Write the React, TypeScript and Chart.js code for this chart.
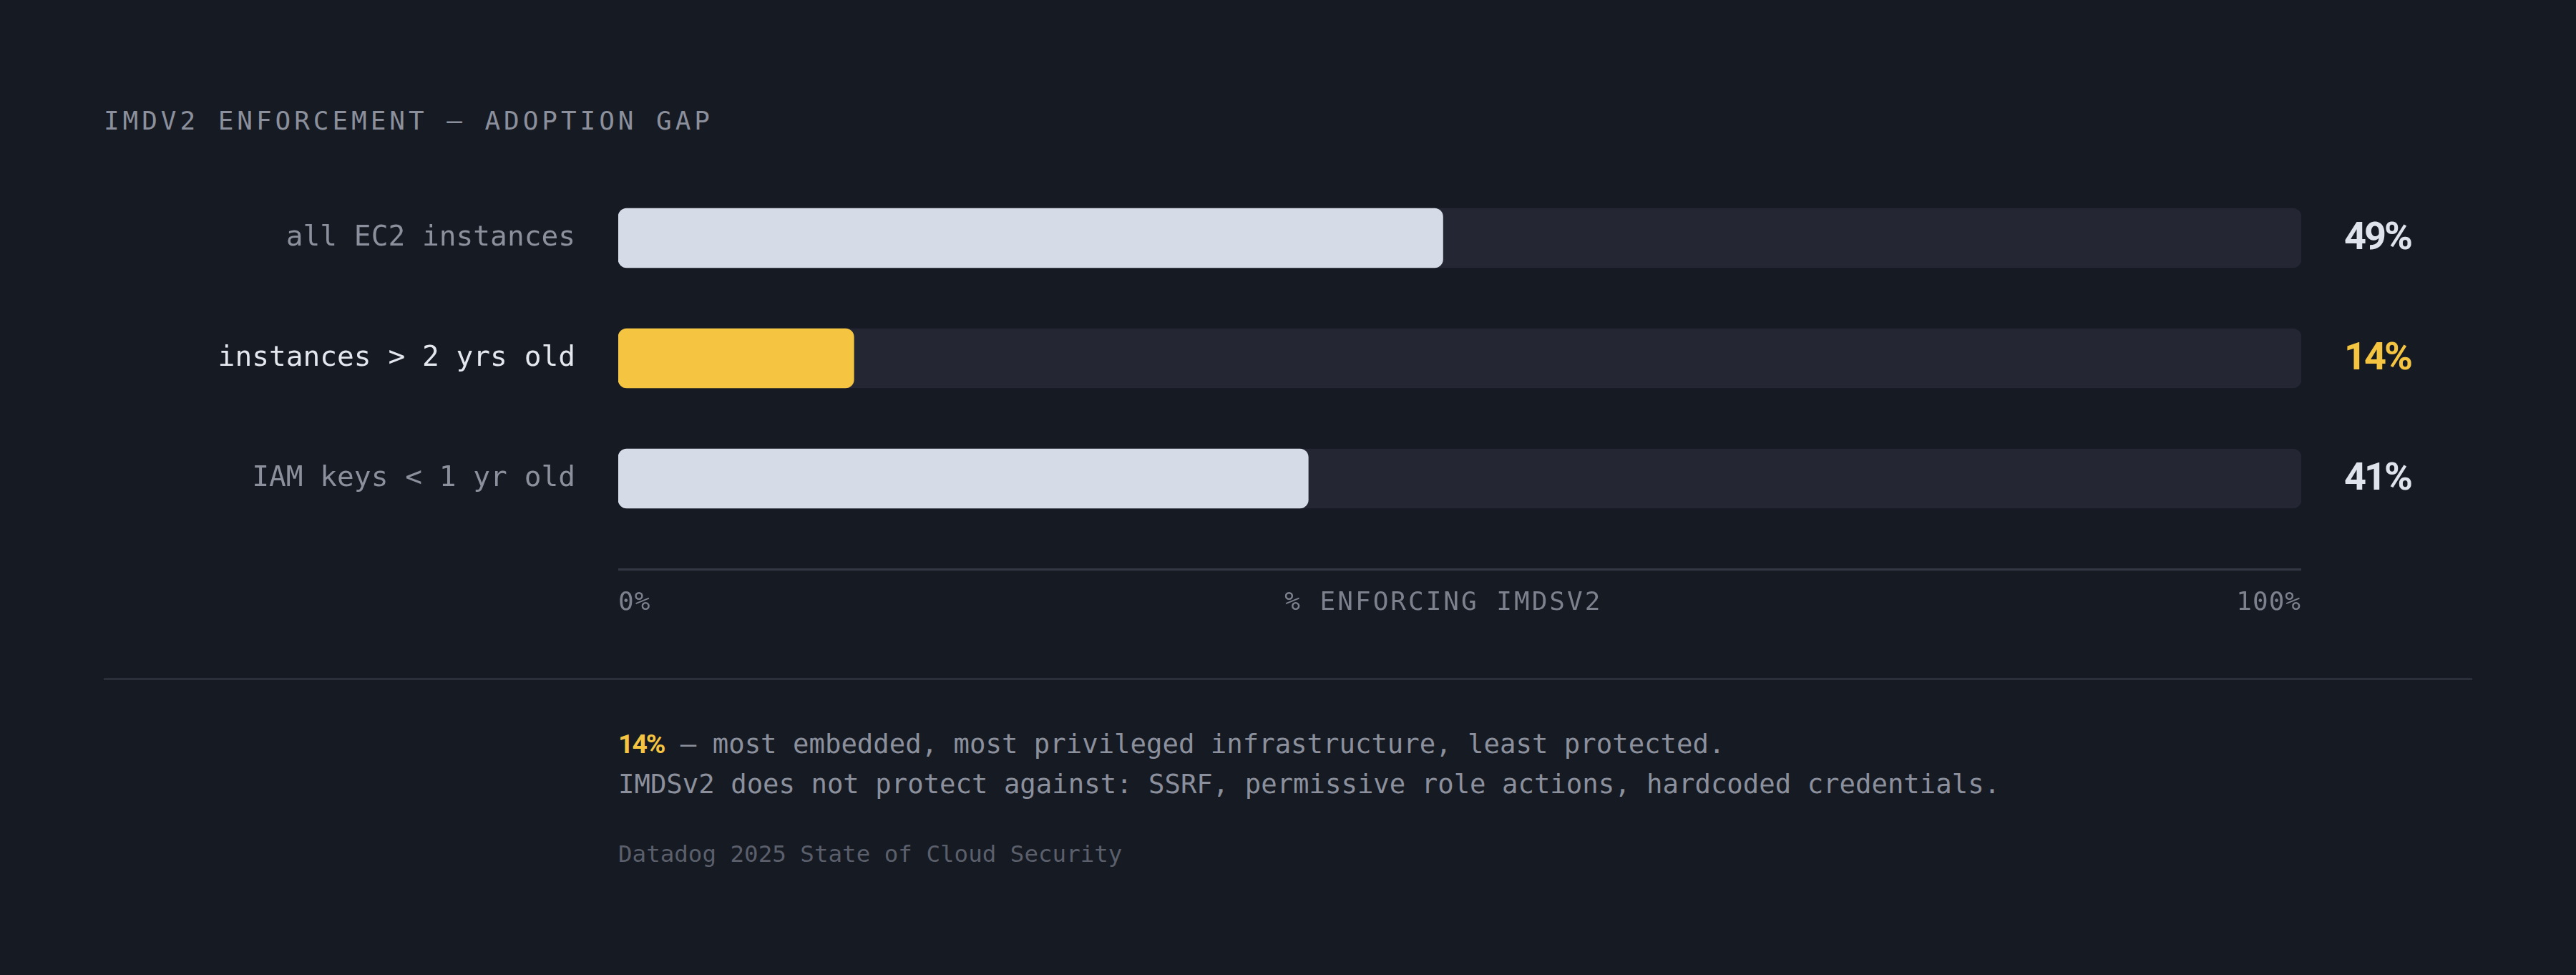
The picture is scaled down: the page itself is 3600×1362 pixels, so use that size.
import { useEffect, useRef } from "react"
import { Chart, registerables } from "chart.js"

Chart.register(...registerables)

// chart data
const categories = ["all EC2 instances", "instances > 2 yrs old", "IAM keys < 1 yr old"]
const enforcing = [49, 14, 41]
const highlightIndex = 1
const trackMax = [100, 100, 100]
const axisLabels = ["0%", "% ENFORCING IMDSV2", "100%"]

const BG = "#161a23"
const TRACK = "#242733"
const BAR = "#d5dbe7"
const YELLOW = "#f5c542"
const MUTED = "#8b909c"
const MONO = "'DejaVu Sans Mono', 'Liberation Mono', monospace"
const SANS = "Roboto, 'Noto Sans', sans-serif"

// value labels to the right of each track
const valueLabels = {
  id: "valueLabels",
  afterDatasetsDraw(chart: Chart) {
    const { ctx, chartArea } = chart
    const meta = chart.getDatasetMeta(0)
    ctx.save()
    ctx.font = `700 54px ${SANS}`
    ;(ctx as any).letterSpacing = "-3px"
    ctx.textAlign = "left"
    ctx.textBaseline = "middle"
    meta.data.forEach((el: any, i: number) => {
      ctx.fillStyle = i === highlightIndex ? YELLOW : "#dfe3ec"
      ctx.fillText(`${enforcing[i]}%`, chartArea.right + 60, el.y + 2)
    })
    ctx.restore()
  },
}

// bottom axis line + labels laid out like space-between
const bottomAxis = {
  id: "bottomAxis",
  afterDraw(chart: Chart) {
    const { ctx, chartArea } = chart
    const x = chart.scales.x
    const x0 = x.getPixelForValue(0)
    const x1 = x.getPixelForValue(100)
    const lineY = chartArea.bottom + 43
    ctx.save()
    ctx.strokeStyle = "#343844"
    ctx.lineWidth = 3
    ctx.beginPath()
    ctx.moveTo(x0, lineY)
    ctx.lineTo(x1, lineY)
    ctx.stroke()

    const labelY = lineY + 47
    ctx.font = `36px ${MONO}`
    ctx.fillStyle = "#7c818d"
    ctx.textBaseline = "middle"
    ;(ctx as any).letterSpacing = "1px"
    ctx.textAlign = "left"
    ctx.fillText(axisLabels[0], x0, labelY)
    const leftEnd = x0 + ctx.measureText(axisLabels[0]).width
    ctx.textAlign = "right"
    ctx.fillText(axisLabels[2], x1, labelY)
    const rightStart = x1 - ctx.measureText(axisLabels[2]).width
    ;(ctx as any).letterSpacing = "3px"
    ctx.textAlign = "center"
    ctx.fillText(axisLabels[1], (leftEnd + rightStart) / 2, labelY)
    ctx.restore()
  },
}

function AdoptionChart() {
  const chartRef = useRef<HTMLCanvasElement>(null)
  const chartInstance = useRef<Chart | null>(null)

  useEffect(() => {
    if (!chartRef.current) return
    if (chartInstance.current) chartInstance.current.destroy()
    const ctx = chartRef.current.getContext("2d")
    if (!ctx) return

    chartInstance.current = new Chart(ctx, {
      type: "bar",
      data: {
        labels: categories,
        datasets: [
          {
            label: "% enforcing IMDSv2",
            data: enforcing,
            backgroundColor: enforcing.map((_, i) => (i === highlightIndex ? YELLOW : BAR)),
            borderRadius: 12,
            borderSkipped: false,
            barThickness: 83,
            grouped: false,
            order: 0,
          },
          {
            label: "track",
            data: trackMax,
            backgroundColor: TRACK,
            borderRadius: 12,
            borderSkipped: false,
            barThickness: 83,
            grouped: false,
            order: 1,
          },
        ],
      },
      options: {
        indexAxis: "y",
        responsive: true,
        maintainAspectRatio: false,
        animation: false,
        events: [],
        layout: { padding: { left: 0, right: 384, top: 248.5, bottom: 147.5 } },
        plugins: {
          legend: { display: false },
          tooltip: { enabled: false },
        },
        scales: {
          x: { min: 0, max: 100, display: false },
          y: {
            grid: { display: false, drawTicks: false },
            border: { display: false },
            ticks: {
              padding: 60,
              font: { family: MONO, size: 39.5 },
              color: (c: any) => (c.index === highlightIndex ? "#e4e7ee" : MUTED),
            },
            afterFit: (s: any) => {
              s.width = 864
            },
          },
        },
      },
      plugins: [valueLabels, bottomAxis],
    })

    return () => {
      if (chartInstance.current) {
        chartInstance.current.destroy()
        chartInstance.current = null
      }
    }
  }, [])

  return (
    <div style={{ position: "absolute", left: 0, top: 0, width: 3600, height: 900 }}>
      <canvas ref={chartRef} />
    </div>
  )
}

export default function App() {
  return (
    <div
      style={{
        position: "absolute",
        left: 0,
        top: 0,
        width: 3600,
        height: 1362,
        background: BG,
        overflow: "hidden",
        fontFamily: MONO,
      }}
    >
      <div
        style={{
          position: "absolute",
          left: 145,
          top: 151,
          fontSize: 36,
          lineHeight: 1,
          letterSpacing: "4.95px",
          color: MUTED,
          whiteSpace: "nowrap",
        }}
      >
        IMDV2 ENFORCEMENT — ADOPTION GAP
      </div>

      <AdoptionChart />

      <div style={{ position: "absolute", left: 145, top: 947, width: 3310, height: 3, background: "#2b2f3a" }} />

      <div
        style={{
          position: "absolute",
          left: 864,
          top: 1021,
          fontSize: 37.3,
          lineHeight: 1,
          color: MUTED,
          whiteSpace: "nowrap",
        }}
      >
        <span style={{ fontFamily: SANS, fontWeight: 700, color: YELLOW, letterSpacing: "-2px" }}>14%</span> — most
        embedded, most privileged infrastructure, least protected.
      </div>
      <div
        style={{
          position: "absolute",
          left: 864,
          top: 1077,
          fontSize: 37.3,
          lineHeight: 1,
          color: MUTED,
          whiteSpace: "nowrap",
        }}
      >
        IMDSv2 does not protect against: SSRF, permissive role actions, hardcoded credentials.
      </div>
      <div
        style={{
          position: "absolute",
          left: 864,
          top: 1177,
          fontSize: 32.5,
          lineHeight: 1,
          color: "#5a5f6b",
          whiteSpace: "nowrap",
        }}
      >
        Datadog 2025 State of Cloud Security
      </div>
    </div>
  )
}
